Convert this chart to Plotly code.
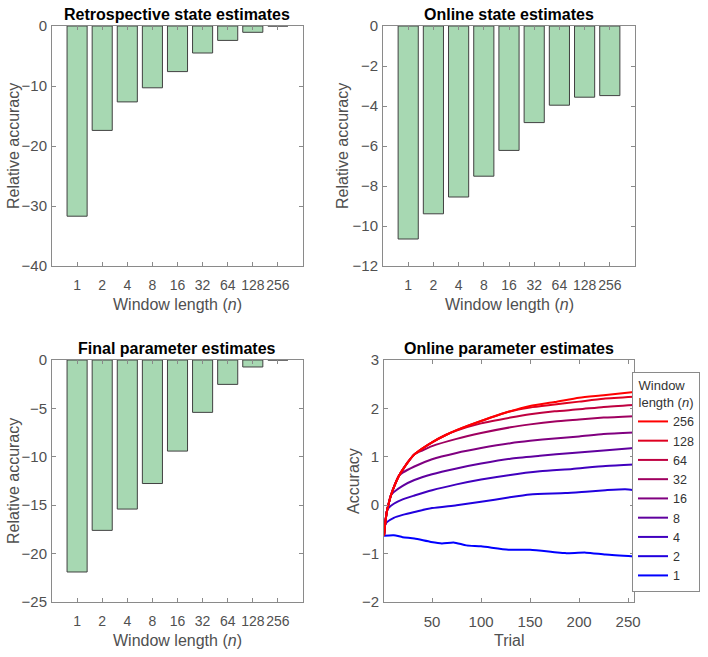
import plotly.graph_objects as go

# ---------------- data ----------------
window_labels = ["1", "2", "4", "8", "16", "32", "64", "128", "256"]

retro_state = [-31.7, -17.4, -12.65, -10.3, -7.6, -4.5, -2.4, -1.05, 0.0]
online_state = [-10.65, -9.39, -8.55, -7.51, -6.22, -4.83, -3.96, -3.56, -3.48]
final_param = [-21.9, -17.6, -15.4, -12.76, -9.41, -5.41, -2.52, -0.72, 0.0]

trial_n1 = [1, 11, 20, 32, 49, 60, 72, 85, 100, 128, 150, 175, 186, 207, 227, 256]
acc_n1 = [-0.63, -0.62, -0.66, -0.69, -0.76, -0.79, -0.77, -0.83, -0.85, -0.92, -0.92, -0.97, -0.99, -0.98, -1.02, -1.06]

trial_n2 = [1, 2, 4, 11, 20, 32, 50, 75, 100, 128, 150, 186, 207, 227, 247, 256]
acc_n2 = [-0.63, -0.42, -0.35, -0.26, -0.2, -0.14, -0.06, 0.0, 0.07, 0.16, 0.22, 0.25, 0.28, 0.31, 0.33, 0.31]

trial_n4 = [1, 2, 3, 4, 6, 11, 20, 32, 50, 75, 100, 128, 160, 193, 227, 256]
acc_n4 = [-0.63, -0.42, -0.25, -0.12, -0.05, 0.03, 0.12, 0.2, 0.31, 0.43, 0.53, 0.62, 0.70, 0.75, 0.81, 0.84]

trial_n8 = [1, 2, 3, 4, 6, 8, 11, 20, 32, 50, 75, 100, 130, 160, 193, 225, 256]
acc_n8 = [-0.63, -0.42, -0.25, -0.12, 0.05, 0.2, 0.27, 0.4, 0.52, 0.64, 0.76, 0.86, 0.96, 1.02, 1.08, 1.13, 1.18]

trial_n16 = [1, 2, 3, 4, 6, 8, 12, 16, 20, 32, 50, 75, 100, 130, 150, 175, 200, 225, 256]
acc_n16 = [-0.63, -0.42, -0.25, -0.12, 0.05, 0.2, 0.42, 0.6, 0.67, 0.8, 0.95, 1.08, 1.18, 1.28, 1.33, 1.38, 1.42, 1.47, 1.50]

trial_n32 = [1, 2, 3, 4, 6, 8, 12, 16, 20, 25, 32, 40, 50, 75, 100, 130, 150, 175, 200, 225, 256]
acc_n32 = [-0.63, -0.42, -0.25, -0.12, 0.05, 0.2, 0.42, 0.6, 0.73, 0.88, 1.05, 1.13, 1.22, 1.37, 1.49, 1.61, 1.67, 1.73, 1.77, 1.81, 1.84]

trial_n64 = [1, 2, 3, 4, 6, 8, 12, 16, 20, 25, 32, 40, 50, 64, 75, 100, 130, 150, 175, 200, 225, 256]
acc_n64 = [-0.63, -0.42, -0.25, -0.12, 0.05, 0.2, 0.42, 0.6, 0.73, 0.88, 1.05, 1.17, 1.3, 1.45, 1.54, 1.69, 1.81, 1.88, 1.94, 1.98, 2.03, 2.07]

trial_n128 = [1, 2, 3, 4, 6, 8, 12, 16, 20, 25, 32, 40, 50, 64, 75, 100, 128, 150, 175, 200, 225, 256]
acc_n128 = [-0.63, -0.42, -0.25, -0.12, 0.05, 0.2, 0.42, 0.6, 0.73, 0.88, 1.05, 1.17, 1.3, 1.45, 1.55, 1.74, 1.93, 2.02, 2.08, 2.14, 2.2, 2.24]

trial_n256 = [1, 2, 3, 4, 6, 8, 12, 16, 20, 25, 32, 40, 50, 64, 75, 100, 128, 150, 175, 200, 225, 256]
acc_n256 = [-0.63, -0.42, -0.25, -0.12, 0.05, 0.2, 0.42, 0.6, 0.73, 0.88, 1.05, 1.17, 1.3, 1.45, 1.55, 1.74, 1.93, 2.05, 2.13, 2.22, 2.27, 2.34]

series = [
    ("1", trial_n1, acc_n1),
    ("2", trial_n2, acc_n2),
    ("4", trial_n4, acc_n4),
    ("8", trial_n8, acc_n8),
    ("16", trial_n16, acc_n16),
    ("32", trial_n32, acc_n32),
    ("64", trial_n64, acc_n64),
    ("128", trial_n128, acc_n128),
    ("256", trial_n256, acc_n256),
]

# ---------------- style ----------------
W, H = 708, 657
FONT = "Liberation Sans, Arial, sans-serif"
BAR_FILL = "#a7d8b2"
BAR_EDGE = "#404040"
AX_COL = "#8a8a8a"
TICK_COL = "#505050"
line_colors = ["rgb(%d,0,%d)" % (round(255 * k / 8), round(255 * (1 - k / 8))) for k in range(9)]

# plot boxes in pixels: (x0, x1, y0_top, y1_bottom)
boxes = {
    1: (52, 303, 26, 266),
    2: (383, 635, 26, 266),
    3: (52, 303, 360, 602),
    4: (384, 634, 360, 602),
}

def xd(b):
    return [b[0] / W, b[1] / W]

def yd(b):
    return [1 - b[3] / H, 1 - b[2] / H]

fig = go.Figure()

bar_sets = [(1, retro_state), (2, online_state), (3, final_param)]
for idx, vals in bar_sets:
    sfx = "" if idx == 1 else str(idx)
    fig.add_trace(go.Bar(
        x=window_labels, y=vals, width=0.8,
        marker=dict(color=BAR_FILL, line=dict(color=BAR_EDGE, width=1)),
        xaxis="x" + sfx, yaxis="y" + sfx, showlegend=False,
    ))

for k, (name, tx, ty) in enumerate(series):
    fig.add_trace(go.Scatter(
        x=tx, y=ty, mode="lines", name=name,
        line=dict(color=line_colors[k], width=2, shape="spline", smoothing=0.6),
        xaxis="x4", yaxis="y4",
    ))

common_axis = dict(
    showline=True, linecolor=AX_COL, linewidth=1, mirror="allticks",
    ticks="inside", ticklen=4, tickcolor=AX_COL, showgrid=False, zeroline=False,
    automargin=False,
    tickfont=dict(family=FONT, size=15, color=TICK_COL),
)

layout = dict(
    template="none",
    width=W, height=H, margin=dict(l=0, r=0, t=0, b=0, autoexpand=False),
    paper_bgcolor="white", plot_bgcolor="white",
    font=dict(family=FONT, size=15, color=TICK_COL),
    bargap=0.2,
    legend=dict(
        x=700 / W, y=1 - 372 / H, xanchor="right", yanchor="top",
        traceorder="reversed", bordercolor="#8a8a8a", borderwidth=1,
        bgcolor="white", font=dict(family=FONT, size=12.5, color="#333333"),
        title=dict(text="Window<br>length (<i>n</i>)", side="top center",
                   font=dict(family=FONT, size=13, color="#333333")),
        itemwidth=30,
    ),
)

yranges = {1: [-40, 0], 2: [-12, 0], 3: [-25, 0], 4: [-2, 3]}
ydticks = {1: 10, 2: 2, 3: 5, 4: 1}
for i in range(1, 5):
    b = boxes[i]
    sfx = "" if i == 1 else str(i)
    xa = dict(common_axis, domain=xd(b), anchor="y" + sfx, tickangle=0,
              ticklabelstandoff=6)
    ya = dict(common_axis, domain=yd(b), anchor="x" + sfx, range=yranges[i],
              dtick=ydticks[i], tick0=0, ticklabelstandoff=1)
    if i < 4:
        xa.update(type="category", range=[-1, 9],
                  tickfont=dict(family=FONT, size=14, color=TICK_COL))
    else:
        xa.update(range=[1, 256], tickvals=[50, 100, 150, 200, 250])
    layout["xaxis" + sfx] = xa
    layout["yaxis" + sfx] = ya

fig.update_layout(**layout)

titles = {
    1: "Retrospective state estimates",
    2: "Online state estimates",
    3: "Final parameter estimates",
    4: "Online parameter estimates",
}
xtitles = {1: "Window length (<i>n</i>)", 2: "Window length (<i>n</i>)",
           3: "Window length (<i>n</i>)", 4: "Trial"}
ytitles = {1: "Relative accuracy", 2: "Relative accuracy",
           3: "Relative accuracy", 4: "Accuracy"}
ytitle_x = {1: 13, 2: 342, 3: 13, 4: 353}

for i in range(1, 5):
    x0, x1, yt, yb = boxes[i]
    cx = (x0 + x1) / 2 / W
    fig.add_annotation(text="<b>%s</b>" % titles[i], x=cx, y=1 - yt / H,
                       xref="paper", yref="paper", xanchor="center", yanchor="bottom",
                       yshift=1, showarrow=False,
                       font=dict(family=FONT, size=16, color="black"))
    fig.add_annotation(text=xtitles[i], x=cx, y=1 - yb / H,
                       xref="paper", yref="paper", xanchor="center", yanchor="top",
                       yshift=-28, showarrow=False,
                       font=dict(family=FONT, size=16, color=TICK_COL))
    fig.add_annotation(text=ytitles[i], x=ytitle_x[i] / W, y=1 - (yt + yb) / 2 / H,
                       xref="paper", yref="paper", xanchor="center", yanchor="middle",
                       textangle=-90, showarrow=False,
                       font=dict(family=FONT, size=16, color=TICK_COL))

fig.write_html(
    "out.html",
    config={"displayModeBar": False},
    post_script="document.body.style.margin='0';document.body.style.overflow='hidden';",
)
